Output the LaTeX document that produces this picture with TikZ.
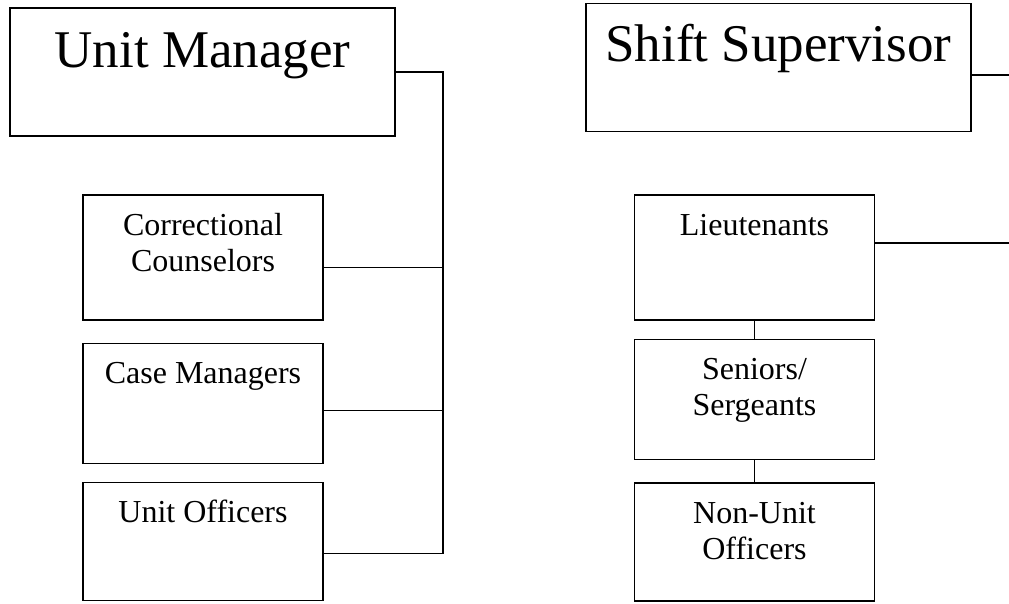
\documentclass[tikz,border=0pt]{standalone}
\usepackage{fontspec}
\setmainfont{Liberation Serif}
\usetikzlibrary{positioning}

\newcommand{\headtext}[2]{\parbox[c][128pt][t]{385pt}{\centering\rule{0pt}{#1}#2}}
\newcommand{\stafftext}[2]{\parbox[c][#1][t]{240pt}{\centering\rule{0pt}{40pt}#2}}

\begin{document}
\begin{tikzpicture}[x=1pt, y=-1pt, line width=1.3pt,
  orgbox/.style={draw, rectangle, inner sep=0pt},
  headbox/.style={orgbox, font=\fontsize{53}{60}\selectfont},
  staffbox/.style={orgbox, font=\fontsize{32}{36.5}\selectfont}]
  \useasboundingbox (0,0) rectangle (1009,604);

  % Unit side
  \node[headbox] (um) at (202.5,72) {\headtext{60pt}{Unit Manager}};
  \node[staffbox] (cc) at (203,257.5) {\stafftext{125pt}{Correctional\\Counselors}};
  \node[staffbox] (cm) [below=22.5pt of cc] {\stafftext{120pt}{Case Managers}};
  \node[staffbox] (uo) [below=17.5pt of cm] {\stafftext{118pt}{Unit Officers}};

  \coordinate (bustop) at (443,72);
  \coordinate (ccjoin) at ([yshift=-10pt]cc.east -| bustop);
  \coordinate (cmjoin) at ([yshift=-7pt]cm.east -| bustop);
  \coordinate (uojoin) at ([yshift=-12pt]uo.east -| bustop);
  \draw (um.east) -- (bustop) -- (uojoin);
  \draw ([yshift=-10pt]cc.east) -- (ccjoin);
  \draw ([yshift=-7pt]cm.east) -- (cmjoin);
  \draw ([yshift=-12pt]uo.east) -- (uojoin);

  % Shift side
  \node[headbox] (ss) at (778.5,67.5) {\headtext{58pt}{Shift Supervisor}};
  \node[staffbox] (lt) at (754.5,257.5) {\stafftext{125pt}{Lieutenants}};
  \node[staffbox] (sr) [below=18pt of lt] {\stafftext{120pt}{Seniors/\\Sergeants}};
  \node[staffbox] (nu) [below=22.5pt of sr] {\stafftext{118pt}{Non-Unit\\Officers}};

  \coordinate (ssend) at (1009,75);
  \coordinate (ltend) at (1009,243);
  \draw ([yshift=-7.5pt]ss.east) -- (ssend);
  \draw ([yshift=14.5pt]lt.east) -- (ltend);
  \draw (lt.south) -- (sr.north);
  \draw (sr.south) -- (nu.north);
\end{tikzpicture}
\end{document}
